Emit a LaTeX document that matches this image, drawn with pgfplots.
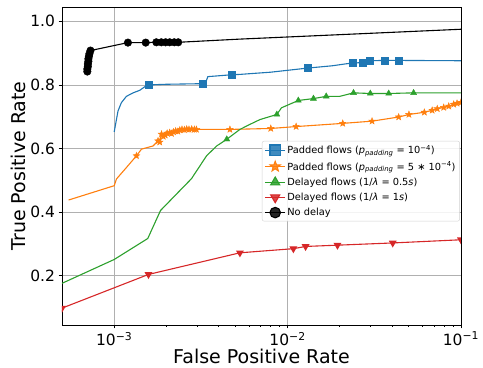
\documentclass[border=0pt]{standalone}
\usepackage{pgfplots}
\pgfplotsset{compat=1.18}
\usepackage{fontspec}
\setmainfont{DejaVu Sans}
\definecolor{tbblue}{HTML}{1F77B4}
\definecolor{tborange}{HTML}{FF7F0E}
\definecolor{tbgreen}{HTML}{2CA02C}
\definecolor{tbred}{HTML}{D62728}
\definecolor{gridgray}{HTML}{B0B0B0}
\pgfdeclareplotmark{fstar}{%
  \pgfpathmoveto{\pgfpointpolar{90}{\pgfplotmarksize}}%
  \pgfpathlineto{\pgfpointpolar{126}{0.42*\pgfplotmarksize}}%
  \pgfpathlineto{\pgfpointpolar{162}{\pgfplotmarksize}}%
  \pgfpathlineto{\pgfpointpolar{198}{0.42*\pgfplotmarksize}}%
  \pgfpathlineto{\pgfpointpolar{234}{\pgfplotmarksize}}%
  \pgfpathlineto{\pgfpointpolar{270}{0.42*\pgfplotmarksize}}%
  \pgfpathlineto{\pgfpointpolar{306}{\pgfplotmarksize}}%
  \pgfpathlineto{\pgfpointpolar{342}{0.42*\pgfplotmarksize}}%
  \pgfpathlineto{\pgfpointpolar{18}{\pgfplotmarksize}}%
  \pgfpathlineto{\pgfpointpolar{54}{0.42*\pgfplotmarksize}}%
  \pgfpathclose
  \pgfusepathqfillstroke
}
\begin{document}
\begin{tikzpicture}
\begin{axis}[
  name=ax,
  scale only axis,
  width=399pt, height=318pt,
  xmode=log,
  xmin=5e-4, xmax=0.1,
  ymin=0.045, ymax=1.045,
  xtick={0.001,0.01,0.1},
  xticklabels={10\textsuperscript{−3},10\textsuperscript{−2},10\textsuperscript{−1}},
  ytick={0.2,0.4,0.6,0.8,1.0},
  yticklabels={0.2,0.4,0.6,0.8,1.0},
  minor y tick num=0,
  tick pos=left,
  tick align=outside,
  major tick length=3.5pt,
  minor tick length=2pt,
  every tick/.style={black, line width=0.8pt},
  grid=major,
  major grid style={gridgray, line width=0.8pt},
  axis line style={black, line width=0.9pt},
  tick label style={font=\fontsize{15.5}{18}\selectfont},
  xlabel={False Positive Rate},
  ylabel={True Positive Rate},
  every axis x label/.style={at={(axis description cs:0.5,0)}, yshift=-31pt, anchor=center, font=\fontsize{19}{22}\selectfont},
  every axis y label/.style={at={(axis description cs:0,0.5)}, xshift=-44pt, rotate=90, anchor=center, font=\fontsize{19}{22}\selectfont},
  clip marker paths=true,
  legend style={at={(axis description cs:0.997,0.579)}, anchor=north east,
    draw=gray!35, rounded corners=2pt, fill=white, fill opacity=0.85, text opacity=1,
    font=\fontsize{9.8}{11}\selectfont, row sep=3pt, inner sep=2.5pt,
    nodes={inner sep=1.6pt}},
  legend cell align=left,
  legend image code/.code={\draw[mark repeat=2,mark phase=2,#1,every mark/.append style={scale=1.5}] plot coordinates {(0pt,0pt) (10pt,0pt) (20pt,0pt)};},
]
% legend images
\addlegendimage{tbblue, line width=1.1pt, mark=square*, mark size=3.5pt}
\addlegendentry{Padded flows (\textit{p}\textsubscript{\textit{padding}} = 10\textsuperscript{−4})}
\addlegendimage{tborange, line width=1.1pt, mark=fstar, mark size=3.5pt}
\addlegendentry{Padded flows (\textit{p}\textsubscript{\textit{padding}} = 5 ∗ 10\textsuperscript{−4})}
\addlegendimage{tbgreen, line width=1.1pt, mark=triangle*, mark size=3.5pt}
\addlegendentry{Delayed flows (1/\textit{λ} = 0.5\textit{s})}
\addlegendimage{tbred, line width=1.1pt, mark=triangle*, mark size=3.5pt, mark options={rotate=180}}
\addlegendentry{Delayed flows (1/\textit{λ} = 1\textit{s})}
\addlegendimage{black, line width=1.1pt, mark=*, mark size=3.5pt}
\addlegendentry{No delay}

% Padded flows 1e-4 (blue)
\addplot[tbblue, line width=1.1pt, no marks, forget plot] coordinates {
(1e-3,0.652) (1.052e-3,0.718) (1.10e-3,0.744) (1.176e-3,0.764) (1.285e-3,0.775)
(1.404e-3,0.783) (1.5e-3,0.794) (1.58e-3,0.800) (2.0e-3,0.802) (3.35e-3,0.804)
(3.47e-3,0.826) (4.78e-3,0.832) (5.3e-3,0.833) (8.0e-3,0.840) (0.0131,0.853)
(0.018,0.860) (0.0236,0.869) (0.0272,0.870) (0.0297,0.876) (0.0363,0.877)
(0.0436,0.877) (0.1,0.876)};
\addplot[tbblue, only marks, mark=square*, mark size=3.5pt, forget plot] coordinates {
(1.58e-3,0.800) (3.26e-3,0.804) (4.78e-3,0.832) (0.0131,0.853) (0.0236,0.869)
(0.0272,0.870) (0.0297,0.876) (0.0363,0.877) (0.0436,0.877)};

% Padded flows 5e-4 (orange)
\addplot[tborange, line width=1.1pt, no marks, forget plot] coordinates {
(5.46e-4,0.438) (1e-3,0.483) (1.03e-3,0.504) (1.18e-3,0.541) (1.344e-3,0.577)
(1.437e-3,0.598) (1.676e-3,0.608) (1.79e-3,0.624) (1.83e-3,0.620) (1.875e-3,0.645)
(1.92e-3,0.638) (1.97e-3,0.642) (2.02e-3,0.648) (2.09e-3,0.650) (2.14e-3,0.647)
(2.2e-3,0.652) (2.26e-3,0.655) (2.33e-3,0.654) (2.39e-3,0.658) (2.46e-3,0.660)
(2.54e-3,0.659) (2.62e-3,0.661) (2.7e-3,0.660) (2.8e-3,0.661) (2.9e-3,0.660)
(2.98e-3,0.660) (4.65e-3,0.660) (8.0e-3,0.663) (0.0112,0.669) (0.0208,0.679)
(0.0307,0.686) (0.0437,0.699) (0.0501,0.707) (0.0615,0.714) (0.0682,0.720)
(0.073,0.725) (0.0795,0.729) (0.085,0.733) (0.0908,0.739) (0.0949,0.742) (0.1,0.745)};
\addplot[tborange, only marks, mark=fstar, mark size=3.5pt, forget plot] coordinates {
(1.344e-3,0.577) (1.79e-3,0.624) (1.83e-3,0.620) (1.875e-3,0.645)
(1.92e-3,0.638) (1.97e-3,0.642) (2.02e-3,0.648) (2.09e-3,0.650) (2.14e-3,0.647)
(2.2e-3,0.652) (2.26e-3,0.655) (2.33e-3,0.654) (2.39e-3,0.658) (2.46e-3,0.660)
(2.54e-3,0.659) (2.62e-3,0.661) (2.7e-3,0.660) (2.8e-3,0.661) (2.9e-3,0.660)
(2.98e-3,0.660) (4.65e-3,0.660) (8.0e-3,0.663) (0.0112,0.669) (0.0208,0.679)
(0.0307,0.686) (0.0437,0.699) (0.0501,0.707) (0.0615,0.714) (0.0682,0.720)
(0.073,0.725) (0.0795,0.729) (0.085,0.733) (0.0908,0.739) (0.0949,0.742) (0.1,0.745)};

% Delayed flows 0.5s (green)
\addplot[tbgreen, line width=1.1pt, no marks, forget plot] coordinates {
(5e-4,0.176) (1e-3,0.251) (1.562e-3,0.317) (1.85e-3,0.405) (2.29e-3,0.457)
(2.79e-3,0.505) (3.41e-3,0.577) (3.9e-3,0.608) (4.46e-3,0.629) (5.31e-3,0.660)
(6.07e-3,0.676) (6.93e-3,0.691) (8.67e-3,0.707) (9.22e-3,0.728) (0.01153,0.751)
(0.0141,0.757) (0.0167,0.764) (0.020,0.764) (0.024,0.775) (0.030,0.773)
(0.0383,0.773) (0.0533,0.775) (0.1,0.775)};
\addplot[tbgreen, only marks, mark=triangle*, mark size=3.5pt, forget plot] coordinates {
(4.46e-3,0.629) (8.67e-3,0.707) (0.01153,0.751) (0.0141,0.757) (0.0167,0.764)
(0.024,0.775) (0.030,0.773) (0.0383,0.773) (0.0533,0.775)};

% Delayed flows 1s (red)
\addplot[tbred, line width=1.1pt, mark=triangle*, mark size=3.5pt, mark options={rotate=180}, forget plot] coordinates {
(5e-4,0.098) (1.577e-3,0.204) (5.31e-3,0.272) (0.0108,0.285) (0.0127,0.292)
(0.0194,0.296) (0.0404,0.303) (0.1,0.313)};

% No delay (black)
\addplot[black, line width=1.1pt, no marks, forget plot] coordinates {
(7.0e-4,0.842) (7.0e-4,0.850) (7.05e-4,0.858) (7.05e-4,0.866) (7.1e-4,0.874)
(7.1e-4,0.882) (7.15e-4,0.890) (7.2e-4,0.898) (7.3e-4,0.908) (1.2e-3,0.933)
(1.52e-3,0.933) (1.75e-3,0.934) (1.87e-3,0.934) (1.98e-3,0.934) (2.09e-3,0.934)
(2.22e-3,0.934) (2.34e-3,0.934) (5.3e-3,0.944) (0.02,0.958) (0.1,0.975)};
\addplot[black, only marks, mark=*, mark size=3.8pt, forget plot] coordinates {
(7.0e-4,0.842) (7.0e-4,0.850) (7.05e-4,0.858) (7.05e-4,0.866) (7.1e-4,0.874)
(7.1e-4,0.882) (7.15e-4,0.890) (7.2e-4,0.898) (7.3e-4,0.908) (1.2e-3,0.933)
(1.52e-3,0.933) (1.75e-3,0.934) (1.87e-3,0.934) (1.98e-3,0.934) (2.09e-3,0.934)
(2.22e-3,0.934) (2.34e-3,0.934)};
\end{axis}
\pgfresetboundingbox
\path ([shift={(-62pt,-43pt)}]ax.south west) rectangle ([shift={(22pt,7pt)}]ax.north east);
\end{tikzpicture}
\end{document}
